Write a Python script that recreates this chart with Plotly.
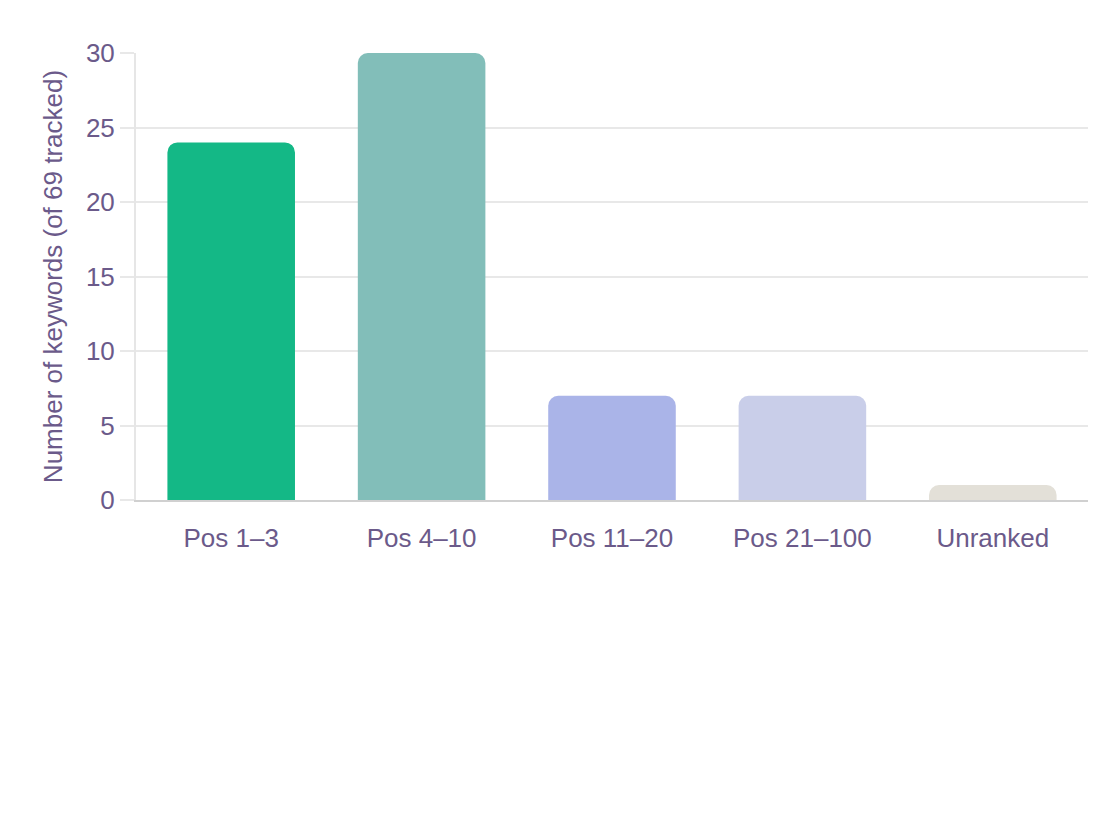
import plotly.graph_objects as go

# keyword ranking buckets
categories = ['Pos 1–3', 'Pos 4–10', 'Pos 11–20', 'Pos 21–100', 'Unranked']
counts = [24, 30, 7, 7, 1]
bar_colors = ['#14b886', '#82beb9', '#aab4e8', '#c9cee9', '#e3e0d8']

TEXT = '#6b5a8a'

fig = go.Figure()

fig.add_trace(go.Bar(x=categories,
                     y=counts,
                     marker_color=bar_colors,
                     marker_line_width=0,
                     showlegend=False))

fig.update_layout(template='plotly_white',
                  width=1120,
                  height=840,
                  margin=dict(l=128, r=40, t=45, b=348),
                  bargap=0.33,
                  barcornerradius=10,
                  font=dict(family='Liberation Sans, Arial, sans-serif',
                            size=26, color=TEXT),
                  plot_bgcolor='white',
                  paper_bgcolor='white')

fig.update_xaxes(showline=True,
                 linecolor='#d0d0d0',
                 linewidth=2,
                 showgrid=False,
                 ticks='',
                 ticklabelstandoff=14,
                 tickfont=dict(size=26, color=TEXT))

fig.update_yaxes(range=[0, 30],
                 dtick=5,
                 showline=True,
                 linecolor='#e6e6e6',
                 linewidth=2,
                 gridcolor='#e8e8e8',
                 gridwidth=2,
                 zeroline=False,
                 ticks='outside',
                 ticklen=14,
                 tickcolor='#e8e8e8',
                 tickwidth=2,
                 tickfont=dict(size=26, color=TEXT),
                 title=dict(text='Number of keywords (of 69 tracked)',
                            font=dict(size=26, color=TEXT),
                            standoff=16))

fig.write_html("out.html")
